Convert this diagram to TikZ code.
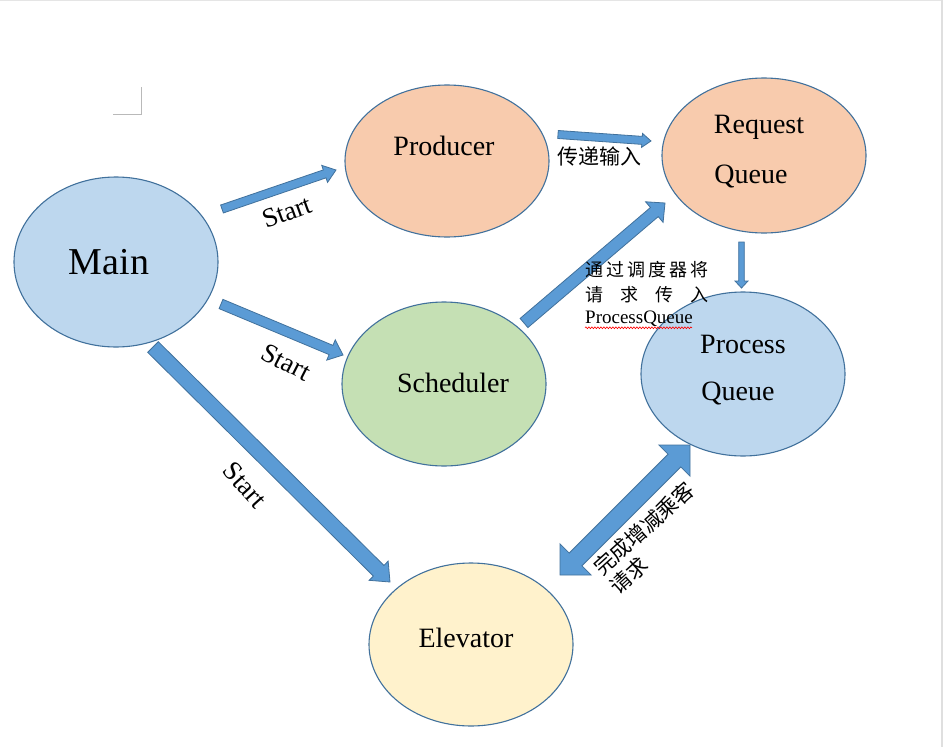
\documentclass[tikz,border=0pt]{standalone}
\usepackage{fontspec}
\setmainfont{Liberation Serif}
\newfontfamily\cjk{Noto Sans CJK SC}
\usetikzlibrary{shapes.geometric,calc,decorations.pathmorphing}
\definecolor{edgeblue}{HTML}{41719C}
\definecolor{arrowblue}{HTML}{5B9BD5}
\definecolor{lblue}{HTML}{BDD7EE}
\definecolor{lorange}{HTML}{F8CBAD}
\definecolor{lgreen}{HTML}{C5E0B4}
\definecolor{lyellow}{HTML}{FFF2CC}
\tikzset{
  bubble/.style={ellipse, draw=edgeblue, line width=1.1pt, inner sep=0pt, minimum width=204pt},
  barrow/.style={fill=arrowblue, draw=edgeblue, line width=0.8pt, line join=miter},
  lbl/.style={inner sep=0pt, font=\fontsize{28}{32}\selectfont},
  startlbl/.style={inner sep=0pt, font=\fontsize{27}{30}\selectfont},
  cjklbl/.style={inner sep=0pt, font=\cjk\fontsize{21}{25}\selectfont},
}
\newcommand\blockarrow[5]{%
  \coordinate (bk) at ($(#2)!#5!(#1)$);
  \draw[barrow] ($(#1)!#3!90:(#2)$) -- ($(bk)!#3!-90:(#1)$) -- ($(bk)!#4!-90:(#1)$) -- (#2)
    -- ($(bk)!#4!90:(#1)$) -- ($(bk)!#3!90:(#1)$) -- ($(#1)!#3!-90:(#2)$) -- cycle;}
\newcommand\dblarrow[5]{%
  \coordinate (ka) at ($(#1)!#5!(#2)$);
  \coordinate (kb) at ($(#2)!#5!(#1)$);
  \draw[barrow] (#1) -- ($(ka)!#4!90:(#2)$) -- ($(ka)!#3!90:(#2)$) -- ($(kb)!#3!-90:(#1)$)
    -- ($(kb)!#4!-90:(#1)$) -- (#2) -- ($(kb)!#4!90:(#1)$) -- ($(kb)!#3!90:(#1)$)
    -- ($(ka)!#3!-90:(#2)$) -- ($(ka)!#4!-90:(#2)$) -- cycle;}
\begin{document}
\begin{tikzpicture}[x=1pt,y=-1pt]
\useasboundingbox (0,0) rectangle (943,747);
\fill[white] (0,0) rectangle (943,747);
\fill[gray!25] (940.5,0) rectangle (943,747);
\draw[gray!20, line width=0.6pt] (0,0.5) -- (940.5,0.5);
\draw[gray!55, line width=0.8pt] (113,114) -- (141,114) -- (141,87);

% ellipses
\node[bubble, fill=lblue, minimum height=170pt] (main) at (116,262) {};
\node[bubble, fill=lorange, minimum height=152pt] (producer) at (447,161) {};
\node[bubble, fill=lorange, minimum height=155pt] (rq) at (764,155.5) {};
\node[bubble, fill=lgreen, minimum height=164pt] (sched) at (444,384) {};
\node[bubble, fill=lblue, minimum height=164pt] (pq) at (743,374) {};
\node[bubble, fill=lyellow, minimum height=163pt] (elev) at (471,644.5) {};

% labels
\node[inner sep=0pt, font=\fontsize{38}{42}\selectfont] (main-t) at (109,262) {Main};
\node[lbl] (producer-t) at (444,146) {Producer};
\node[lbl] (rq-t1) at (759,127) {Request};
\node[lbl] (rq-t2) at (751,176) {Queue};
\node[lbl] (sched-t) at (453,383) {Scheduler};
\node[lbl] (pq-t1) at (743,344) {Process};
\node[lbl] (pq-t2) at (738,393) {Queue};
\node[lbl] (elev-t) at (466,638) {Elevator};

% arrow end points
\coordinate (a1s) at (222,209);   \coordinate (a1e) at (336,170);
\coordinate (a2s) at (558,134.5); \coordinate (a2e) at (651,141);
\coordinate (a3s) at (221,304);   \coordinate (a3e) at (343,355);
\coordinate (a4s) at (153,347);   \coordinate (a4e) at (390,582);
\coordinate (a5s) at (524,323);   \coordinate (a5e) at (665,203);
\coordinate (a6s) at (741.5,242); \coordinate (a6e) at (741.5,288);
\coordinate (a7s) at (560,575);   \coordinate (a7e) at (690,445);

\blockarrow{a1s}{a1e}{4.2pt}{9pt}{12pt}
\blockarrow{a2s}{a2e}{4pt}{7pt}{9pt}
\blockarrow{a3s}{a3e}{5pt}{11pt}{13pt}
\blockarrow{a4s}{a4e}{7.5pt}{13.5pt}{16pt}
\blockarrow{a5s}{a5e}{6pt}{13.5pt}{14pt}
\blockarrow{a6s}{a6e}{2.8pt}{6.5pt}{7pt}
\dblarrow{a7s}{a7e}{9pt}{22pt}{22pt}

% arrow labels
\node[startlbl, rotate=20] (s1) at (287,212) {Start};
\node[startlbl, rotate=-27] (s2) at (286,362) {Start};
\node[startlbl, rotate=-48] (s3) at (245,485) {Start};
\node[cjklbl] (pass) at (599,156) {传递输入};
\node[inner sep=0pt, anchor=west, font=\cjk\fontsize{18}{22}\selectfont] (via1) at (585,269.5)
  {\hbox to 123pt{通\hfill 过\hfill 调\hfill 度\hfill 器\hfill 将}};
\node[inner sep=0pt, anchor=west, font=\cjk\fontsize{18}{22}\selectfont] (via2) at (585,294.5)
  {\hbox to 123pt{请\hfill 求\hfill 传\hfill 入}};
\node[inner sep=0pt, anchor=base west, font=\fontsize{19}{22}\selectfont] (via3) at (585,323) {ProcessQueue};
\draw[red, line width=0.6pt, decorate, decoration={snake, amplitude=0.9pt, segment length=3pt}]
  (via3.south west) ++(0,1.5) -- ++(107,0);
\node[inner sep=0pt, rotate=42, align=left, font=\cjk\fontsize{21}{25}\selectfont] (done) at (652,538)
  {完成增减乘客\\请求};
\end{tikzpicture}
\end{document}
